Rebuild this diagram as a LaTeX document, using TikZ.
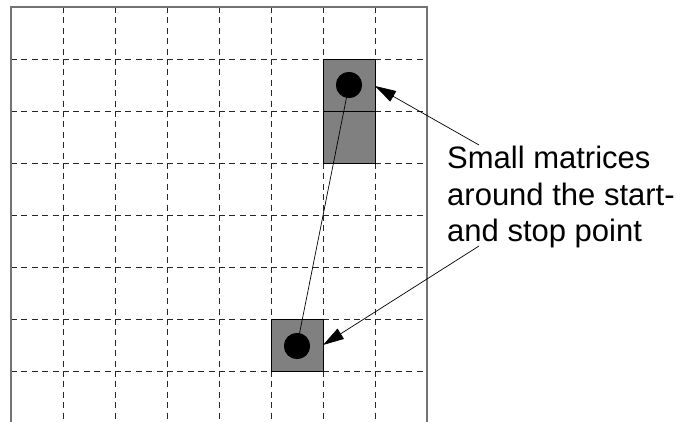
\documentclass[tikz,border=0pt]{standalone}
\usepackage{fontspec}
\setmainfont{Liberation Sans}
\usetikzlibrary{arrows.meta}
\begin{document}
\begin{tikzpicture}[x=1pt,y=-1pt,
  gridline/.style={draw=black!85, line width=0.8pt, dash pattern=on 6pt off 4.4pt},
  frameline/.style={draw=black!55, line width=1.3pt},
  cellbox/.style={fill=black!50, draw=black, line width=0.9pt},
  dot/.style={circle, fill=black, inner sep=0pt, minimum size=26pt},
  label/.style={anchor=base west, inner sep=0pt, font=\fontsize{31}{36}\selectfont},
  pointer/.style={draw=black, line width=0.7pt, -{Triangle[length=21pt,width=12pt]}}]
\useasboundingbox (0,0) rectangle (677,422);
% grid, drawn cell by cell so dashes start at each crossing
\foreach \x in {63,115,167,219,271,323,375}
  \foreach \y in {7,59,111,163,215,267,319,371}
    \draw[gridline] (\x,\y) -- (\x,{min(\y+52,422)});
\foreach \y in {59,111,163,215,267,319,371}
  \foreach \x in {11,63,115,167,219,271,323,375}
    \draw[gridline] (\x,\y) -- (\x+52,\y);
% frame
\draw[frameline] (11,422) -- (11,7) -- (427,7) -- (427,422);
% gray cells
\draw[cellbox] (323,59) rectangle (375,163);
\draw[black, line width=0.9pt] (323,111) -- (375,111);
\draw[cellbox] (271,319) rectangle (323,371);
\coordinate (topE) at (375,86);
\coordinate (botE) at (323,345);
% points
\node[dot] (p1) at (349,85) {};
\node[dot] (p2) at (297,346) {};
\draw[black, line width=0.7pt] (p1.center) -- (p2.center);
\node[dot] at (349,85) {};
\node[dot] at (297,346) {};
% text
\node[label] (l1) at (447,169) {Small matrices};
\node[label] (l2) at (447,205) {around the start-};
\node[label] (l3) at (447,241) {and stop point};
\coordinate (s1) at (479,145);
\coordinate (s2) at (479,246);
\draw[pointer] (s1) -- (topE);
\draw[pointer] (s2) -- (botE);
\end{tikzpicture}
\end{document}
